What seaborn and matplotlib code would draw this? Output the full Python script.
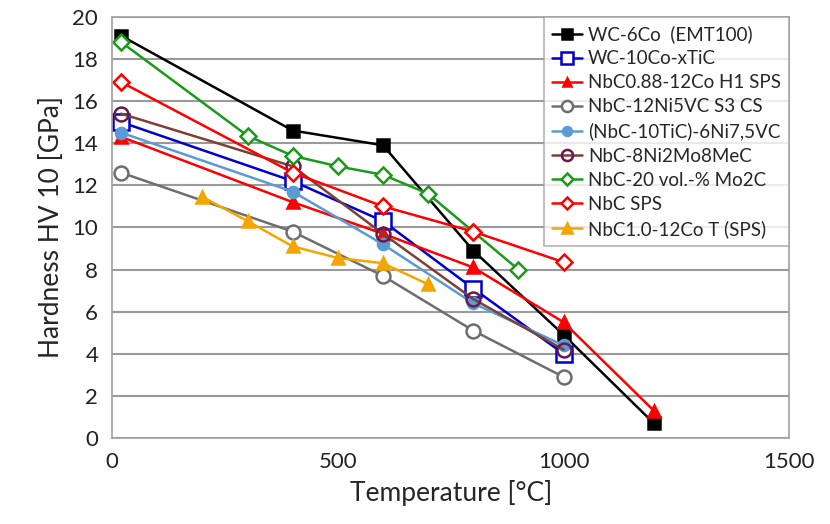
import matplotlib
matplotlib.use("Agg")
import matplotlib.pyplot as plt
from matplotlib.ticker import MultipleLocator
import seaborn as sns

# data (temperature in C, hardness in GPa)
t_wc6co = [20, 400, 600, 800, 1000, 1200]
h_wc6co = [19.1, 14.6, 13.9, 8.9, 4.9, 0.7]

t_wc10co = [20, 400, 600, 800, 1000]
h_wc10co = [15.0, 12.2, 10.3, 7.1, 4.0]

t_nbc088 = [20, 400, 600, 800, 1000, 1200]
h_nbc088 = [14.3, 11.2, 9.7, 8.1, 5.5, 1.3]

t_nbc12ni = [20, 400, 600, 800, 1000]
h_nbc12ni = [12.6, 9.8, 7.7, 5.1, 2.9]

t_nbc10tic = [20, 400, 600, 800, 1000]
h_nbc10tic = [14.5, 11.7, 9.2, 6.4, 4.4]

t_nbc8ni = [20, 400, 600, 800, 1000]
h_nbc8ni = [15.4, 12.9, 9.7, 6.6, 4.2]

t_nbcmo2c = [20, 300, 400, 500, 600, 700, 800, 900]
h_nbcmo2c = [18.8, 14.35, 13.4, 12.9, 12.5, 11.6, 9.8, 8.0]

t_nbcsps = [20, 400, 600, 800, 1000]
h_nbcsps = [16.9, 12.6, 11.0, 9.8, 8.35]

t_nbc10co = [200, 300, 400, 500, 600, 700]
h_nbc10co = [11.45, 10.3, 9.1, 8.55, 8.3, 7.3]

labels = ["WC-6Co  (EMT100)", "WC-10Co-xTiC", "NbC0.88-12Co H1 SPS",
          "NbC-12Ni5VC S3 CS", "(NbC-10TiC)-6Ni7,5VC", "NbC-8Ni2Mo8MeC",
          "NbC-20 vol.-% Mo2C", "NbC SPS", "NbC1.0-12Co T (SPS)"]

sns.set_style("white")
plt.rcParams["font.family"] = ["Lato", "DejaVu Sans"]

fig, ax = plt.subplots(figsize=(8.3, 5.24), dpi=100)
fig.subplots_adjust(left=0.135, right=0.951, bottom=0.164, top=0.968)

# (x, y, line colour, marker, size, face, edge)
series = [
    (t_wc6co, h_wc6co, "black", "s", 9, "black", "black"),
    (t_wc10co, h_wc10co, "#0000cc", "s", 11, "white", "#0000cc"),
    (t_nbc088, h_nbc088, "#ff0000", "^", 8, "#ff0000", "#ff0000"),
    (t_nbc12ni, h_nbc12ni, "#6e6e6e", "o", 10, "white", "#6e6e6e"),
    (t_nbc10tic, h_nbc10tic, "#5b9bd5", "o", 8, "#5b9bd5", "#5b9bd5"),
    (t_nbc8ni, h_nbc8ni, "#7d4034", "o", 10, "none", "#6a1a4a"),
    (t_nbcmo2c, h_nbcmo2c, "#1a9a1a", "D", 8, "white", "#1a9a1a"),
    (t_nbcsps, h_nbcsps, "#ff0000", "D", 8, "white", "#ff0000"),
    (t_nbc10co, h_nbc10co, "#f5a500", "^", 9, "#f5a500", "#f5a500"),
]

for (x, y, col, mk, ms, fc, ec), lab in zip(series, labels):
    sns.lineplot(x=x, y=y, ax=ax, color=col, marker=mk, markersize=ms,
                 markerfacecolor=fc, markeredgecolor=ec, markeredgewidth=1.8,
                 linewidth=1.8, label=lab)

ax.set_xlim(0, 1500)
ax.set_ylim(0, 20)
ax.xaxis.set_major_locator(MultipleLocator(500))
ax.xaxis.set_minor_locator(MultipleLocator(100))
ax.yaxis.set_major_locator(MultipleLocator(2))
ax.yaxis.set_minor_locator(MultipleLocator(0.5))
ax.tick_params(axis="both", which="both", direction="in", color="#808080",
               labelsize=16, labelcolor="#222222")
ax.tick_params(axis="both", which="major", length=6, pad=10)
ax.tick_params(axis="both", which="minor", length=4)
ax.grid(axis="y", which="major", color="#9a9a9a", linewidth=1.5)
for sp in ax.spines.values():
    sp.set_color("#a0a0a0")
    sp.set_linewidth(1.2)

ax.set_xlabel("Temperature [°C]", fontsize=19, labelpad=6)
ax.set_ylabel("Hardness HV 10 [GPa]", fontsize=19, labelpad=6)

leg = ax.legend(loc="upper right", fontsize=13.5, frameon=True, fancybox=False,
                edgecolor="#a0a0a0", handlelength=1.6, handletextpad=0.3,
                labelspacing=0.38, borderaxespad=0.0, borderpad=0.45,
                markerscale=0.8)
leg.get_frame().set_linewidth(1.2)

fig.savefig("out.png", dpi=100)
